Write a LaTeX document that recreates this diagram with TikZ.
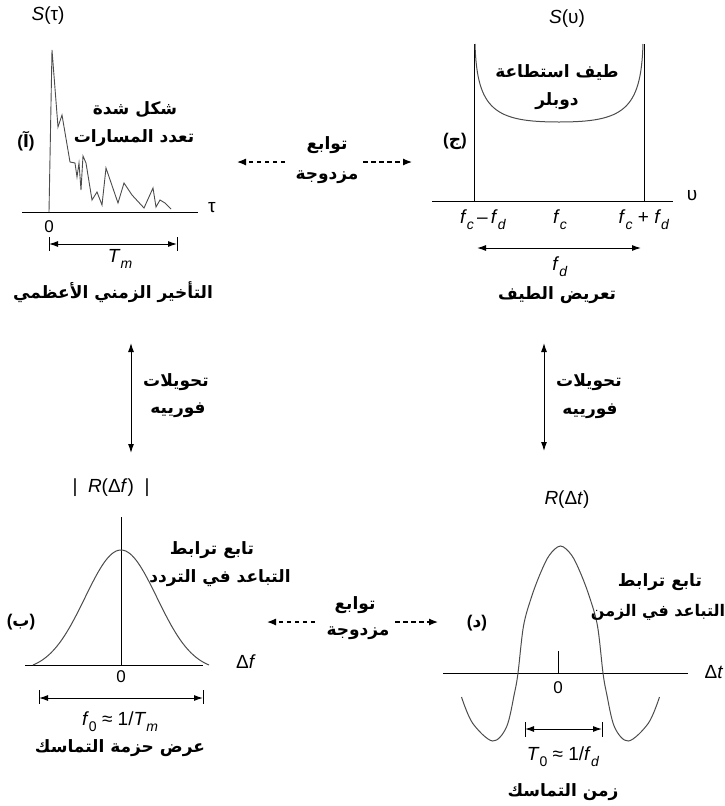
\documentclass[tikz,border=0pt]{standalone}
\usepackage{fontspec}
\setmainfont{Liberation Sans}
\newfontfamily\arabicfont[Script=Arabic]{DejaVu Sans}
\newfontfamily\parenfont{Liberation Sans}
\TeXXeTstate=1
\usetikzlibrary{arrows.meta}
\newcommand\lsub[1]{\raisebox{-0.32em}{\fontsize{14}{14}\selectfont #1}}
\newcommand\ar[1]{\beginR #1\endR}
\newcommand\arlet[1]{{\parenfont\bfseries(}{\arabicfont\bfseries #1}{\parenfont\bfseries)}}
\tikzset{
  lbl/.style={font=\fontsize{19}{19}\selectfont, inner sep=0pt},
  zero/.style={font=\fontsize{17}{17}\selectfont, inner sep=0pt},
  artxt/.style={font=\fontsize{17}{17}\selectfont\arabicfont\bfseries, inner sep=0pt},
  axisline/.style={line width=0.8pt, black},
  curveline/.style={line width=1pt, black!70},
  dimarrow/.style={line width=1pt, {Latex[length=9pt,width=6pt]}-{Latex[length=9pt,width=6pt]}},
  fourier/.style={line width=1pt, {Latex[length=9pt,width=6pt]}-{Latex[length=9pt,width=6pt]}},
  dualarrow/.style={line width=1.2pt, dash pattern=on 4.5pt off 3.5pt, -{Latex[length=9pt,width=7pt]}},
  tickline/.style={line width=0.8pt}
}
\begin{document}
\begin{tikzpicture}[x=1pt,y=-1pt]
\useasboundingbox (0,0) rectangle (724,806);

% ---------- top-left panel ----------
\node[lbl] (Stau) at (48,16) {\textit{S}(τ)};
\coordinate (a1) at (22,212); \coordinate (a2) at (198,212);
\draw[axisline] (a1) -- (a2);
\node[lbl] (tau) at (212,208) {τ};
\draw[curveline, line width=0.9pt] plot coordinates {(49,212) (52,50) (58,127) (62,115) (70,162) (75,163) (77,177) (79,163) (81,190) (83,156) (86,163) (92,200) (97,192) (102,205) (106,168) (118,203) (124,183) (132,195) (144,208) (153,188) (156,207) (160,200) (165,203) (171,209)};
\node[zero] (z1) at (49,227) {0};
\coordinate (tm1) at (49,244); \coordinate (tm2) at (177,244);
\draw[tickline] (49,237) -- (49,251) (177,237) -- (177,251);
\draw[dimarrow] (tm1) -- (tm2);
\node[lbl] (Tm) at (120,259) {\textit{T}\lsub{\textit{m}}};
\node[artxt] (tlA) at (113,292) {\ar{التأخير الزمني الأعظمي}};
\node[artxt] (tlB) at (135,110) {\ar{شكل شدة}};
\node[artxt] (tlC) at (134,138) {\ar{تعدد المسارات}};
\node[artxt] (tlD) at (26,141) {\arlet{آ}};

% ---------- top-right panel ----------
\node[lbl] (Snu) at (567,19) {\textit{S}(υ)};
\coordinate (b1) at (432,201); \coordinate (b2) at (673,201);
\draw[axisline] (b1) -- (b2);
\node[lbl] (nu) at (692,196) {υ};
\draw[axisline] (474,44) -- (474,201) (644,44) -- (644,201);
\draw[curveline] (475,44) .. controls (477,110) and (495,122) .. (559,122)
                 .. controls (623,122) and (641,110) .. (643,44);
\node[lbl] (fcm) at (483,220) {\textit{f}\lsub{\textit{c}}\,–\,\textit{f}\lsub{\textit{d}}};
\node[lbl] (fc) at (560,220) {\textit{f}\lsub{\textit{c}}};
\node[lbl] (fcp) at (644,220) {\textit{f}\lsub{\textit{c}} + \textit{f}\lsub{\textit{d}}};
\coordinate (fd1) at (477,248); \coordinate (fd2) at (641,248);
\draw[dimarrow] (fd1) -- (fd2);
\node[lbl] (fd) at (560,267) {\textit{f}\lsub{\textit{d}}};
\node[artxt] (trA) at (557,295) {\ar{تعريض الطيف}};
\node[artxt] (trB) at (557,72) {\ar{طيف استطاعة}};
\node[artxt] (trC) at (557,101) {\ar{دوبلر}};
\node[artxt] (trD) at (455,141) {\arlet{ج}};

% ---------- middle connectors ----------
\coordinate (d1s) at (285,162); \coordinate (d1e) at (237,162);
\coordinate (d2s) at (363,162); \coordinate (d2e) at (412,162);
\draw[dualarrow] (d1s) -- (d1e);
\draw[dualarrow] (d2s) -- (d2e);
\node[artxt] (m1) at (327,145) {\ar{توابع}};
\node[artxt] (m2) at (327,177) {\ar{مزدوجة}};

\coordinate (v1t) at (131,343); \coordinate (v1b) at (131,453);
\draw[fourier] (v1t) -- (v1b);
\node[artxt] (f1) at (176,382) {\ar{تحويلات}};
\node[artxt] (f2) at (178,410) {\ar{فورييه}};
\coordinate (v2t) at (544,343); \coordinate (v2b) at (544,451);
\draw[fourier] (v2t) -- (v2b);
\node[artxt] (f3) at (589,382) {\ar{تحويلات}};
\node[artxt] (f4) at (590,411) {\ar{فورييه}};

\coordinate (d3s) at (315,622); \coordinate (d3e) at (267,622);
\coordinate (d4s) at (395,622); \coordinate (d4e) at (438,622);
\draw[dualarrow] (d3s) -- (d3e);
\draw[dualarrow] (d4s) -- (d4e);
\node[artxt] (m3) at (355,605) {\ar{توابع}};
\node[artxt] (m4) at (358,633) {\ar{مزدوجة}};

% ---------- bottom-left panel ----------
\node[lbl] (Rdf) at (111,488) {|\; \textit{R}(Δ\textit{f}) \;|};
\coordinate (c1) at (25,665); \coordinate (c2) at (203,665);
\draw[axisline] (c1) -- (c2);
\draw[axisline] (121,517) -- (121,665);
\draw[curveline, domain=-88:88, samples=90, smooth]
  plot ({121+\x}, {665-115*(exp(-(\x/36)^2/2)-0.0503)/(1-0.0503)});
\node[zero] (z2) at (121,677) {0};
\node[lbl] (df) at (246,662) {Δ\textit{f}};
\coordinate (bw1) at (39,698); \coordinate (bw2) at (203,698);
\draw[tickline] (39,690) -- (39,704) (203,690) -- (203,704);
\draw[dimarrow] (bw1) -- (bw2);
\node[lbl] (f0) at (120,722) {\textit{f}\lsub{0} ≈ 1/\textit{T}\lsub{\textit{m}}};
\node[artxt] (blA) at (120,748) {\ar{عرض حزمة التماسك}};
\node[artxt] (blB) at (212,550) {\ar{تابع ترابط}};
\node[artxt] (blC) at (220,578) {\ar{التباعد في التردد}};
\node[artxt] (blD) at (21,622) {\arlet{ب}};

% ---------- bottom-right panel ----------
\node[lbl] (Rdt) at (567,500) {\textit{R}(Δ\textit{t})};
\coordinate (e1) at (443,673); \coordinate (e2) at (688,673);
\draw[axisline] (e1) -- (e2);
\draw[tickline] (558,651) -- (558,673);
\node[lbl] (dt) at (714,672) {Δ\textit{t}};
\draw[curveline] plot[smooth, tension=0.55] coordinates {
 (461.5,697) (472.5,723) (492.5,741) (506.5,727) (514.5,693) (518,673)
 (523.5,626) (531.5,597) (540.5,573) (549.5,555) (560.5,546) (571.5,555)
 (580.5,573) (589.5,597) (597.5,626) (603,673) (606.5,693) (614.5,727)
 (628.5,741) (648.5,723) (659.5,697)};
\node[zero] (z3) at (558,688) {0};
\coordinate (ct1) at (525,729); \coordinate (ct2) at (602,729);
\draw[tickline] (525,722) -- (525,737) (602,722) -- (602,737);
\draw[dimarrow] (ct1) -- (ct2);
\node[lbl] (T0) at (563,757) {\textit{T}\lsub{0} ≈ 1/\textit{f}\lsub{\textit{d}}};
\node[artxt] (brA) at (563,792) {\ar{زمن التماسك}};
\node[artxt] (brB) at (660,582) {\ar{تابع ترابط}};
\node[artxt, font=\fontsize{16}{16}\selectfont\arabicfont\bfseries] (brC) at (658,612) {\ar{التباعد في الزمن}};
\node[artxt] (brD) at (477,623) {\arlet{د}};
\end{tikzpicture}
\end{document}
